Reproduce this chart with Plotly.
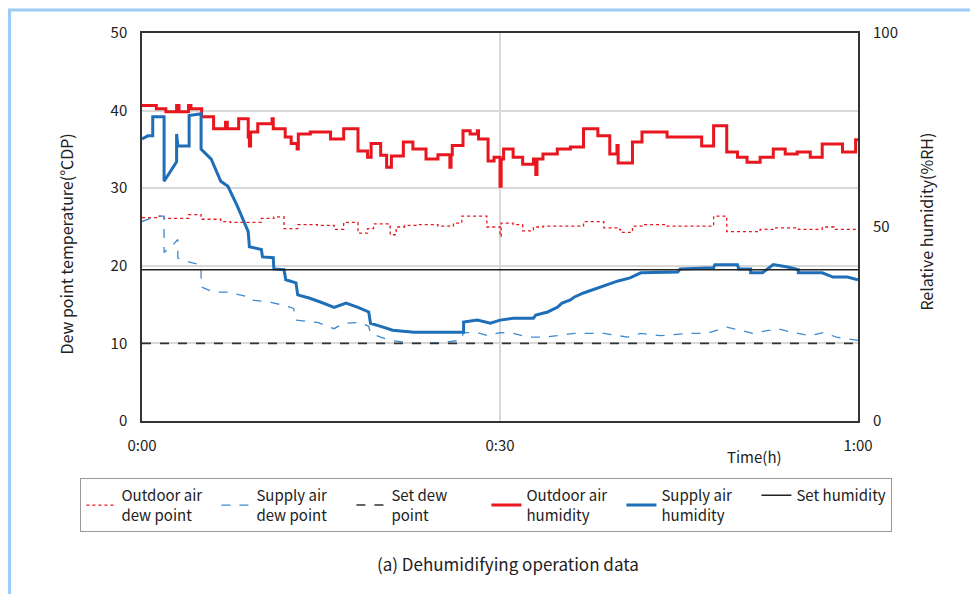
import plotly.graph_objects as go

# time in minutes
OUT_HUM_T = [0, 1.2, 2.0, 2.9, 3.1, 3.9, 4.1, 5.0, 6.0, 7.0, 7.15, 8.1, 8.9, 9.0, 9.1, 9.7, 10.9, 11.0,
             12.0, 12.5, 13.0, 13.1, 14.1, 15.8, 16.9, 18.1, 18.9, 19.2, 20.0, 20.5, 20.9, 21.9, 22.7,
             23.8, 24.8, 25.8, 25.9, 26.0, 26.9, 27.5, 28.1, 28.2, 29.0, 29.5, 30.0, 30.1, 30.3, 31.1,
             31.9, 32.8, 33.0, 33.1, 33.6, 34.8, 35.9, 37.0, 38.2, 39.2, 39.8, 39.9, 41.1, 41.9, 44.0,
             46.9, 47.9, 49.0, 49.9, 50.7, 51.8, 52.9, 53.9, 54.9, 56.0, 57.0, 58.7, 59.8, 60]
OUT_HUM = [81.3, 80.5, 79.7, 81.3, 79.7, 81.3, 80.5, 78.4, 75.3, 77.0, 75.3, 77.9, 73.2, 70.9, 74.5, 76.6,
           77.9, 75.3, 73.2, 71.5, 70.1, 74.0, 74.5, 72.7, 75.3, 69.6, 68.0, 71.5, 68.5, 65.4, 68.3, 71.9,
           70.1, 67.5, 68.6, 65.4, 68.6, 71.0, 74.8, 74.0, 74.8, 72.7, 67.0, 68.0, 60.5, 67.5, 70.1, 68.0,
           66.2, 67.5, 63.5, 67.5, 68.8, 70.1, 70.6, 75.3, 73.5, 68.8, 71.0, 66.5, 71.9, 74.5, 73.2, 70.9,
           76.1, 69.3, 68.0, 66.7, 68.0, 70.1, 68.8, 69.3, 68.0, 71.4, 69.3, 72.5, 72.5]

OUT_DEW_T = [0, 1.2, 1.85, 3.9, 4.95, 6.6, 7.4, 10.0, 11.05, 11.9, 13.05, 14.7, 16.1, 16.9, 18.1, 18.9,
             19.4, 20.8, 21.3, 22.0, 23.1, 24.8, 26.1, 26.8, 28.9, 30.0, 30.1, 31.1, 31.9, 32.8, 33.6,
             37.0, 38.7, 39.9, 40.1, 41.1, 42.0, 44.0, 47.9, 49.0, 51.8, 53.0, 55.0, 57.0, 58.0, 60]
OUT_DEW = [26.2, 26.4, 26.1, 26.6, 26.0, 25.7, 25.6, 26.1, 26.3, 24.8, 25.3, 25.2, 24.7, 25.6, 24.2, 24.8,
           25.4, 24.0, 25.0, 25.2, 25.3, 25.1, 25.5, 26.4, 25.0, 23.8, 25.5, 25.3, 24.5, 25.0, 25.1,
           25.7, 24.9, 24.7, 24.3, 25.1, 25.3, 25.1, 26.4, 24.4, 24.7, 24.9, 24.7, 25.0, 24.7, 24.7]

SUP_HUM_T = [0, 0.5, 0.9, 0.9, 1.85, 1.85, 2.9, 2.9, 3.0, 3.95, 3.95, 4.95, 4.95, 5.8, 6.6, 7.2, 8.0,
             8.9, 9.0, 10.0, 10.1, 11.0, 11.05, 11.9, 12.05, 12.9, 13.05, 14.0, 15.0, 16.1, 17.1, 18.1,
             19.0, 19.15, 20.0, 21.0, 22.8, 26.95, 26.95, 28.1, 29.2, 30.0, 31.1, 32.8, 33.0, 34.0, 34.8,
             35.2, 35.9, 36.2, 37.0, 38.2, 39.0, 39.9, 40.9, 41.8, 44.9, 45.1, 47.9, 48.0, 49.9, 50.0,
             51.0, 51.0, 52.0, 52.9, 54.1, 55.0, 55.0, 57.0, 57.9, 59.1, 60]
SUP_HUM = [72.7, 73.5, 73.5, 78.4, 78.4, 61.8, 66.8, 74.0, 70.9, 70.9, 78.7, 79.2, 70.1, 67.5, 61.8, 60.5,
           55.3, 48.8, 44.9, 44.2, 42.3, 42.1, 39.2, 39.0, 36.4, 35.6, 32.5, 31.7, 30.6, 29.3, 30.4, 29.3,
           28.1, 25.2, 24.4, 23.4, 22.9, 22.9, 25.5, 26.0, 25.2, 26.0, 26.5, 26.5, 27.3, 28.1, 29.3,
           30.4, 31.2, 31.9, 33.0, 34.3, 35.1, 36.1, 36.9, 38.2, 38.4, 39.2, 39.5, 40.3, 40.3, 39.2,
           39.2, 38.2, 38.2, 40.3, 39.7, 39.0, 38.2, 38.2, 37.1, 37.1, 36.4]

SUP_DEW_T = [0, 1.2, 1.85, 1.85, 2.6, 3.0, 3.0, 3.9, 4.95, 4.95, 6.0, 7.2, 8.9, 9.1, 10.8, 11.9, 12.7,
             12.9, 14.7, 16.1, 16.9, 18.3, 19.0, 19.15, 20.0, 20.8, 22.8, 25.0, 26.7, 26.95, 28.1, 29.0,
             30.0, 31.1, 32.3, 33.6, 34.8, 36.2, 38.7, 39.9, 40.7, 41.8, 43.4, 45.9, 47.4, 48.2, 49.0,
             50.1, 51.2, 52.6, 53.2, 54.6, 56.0, 57.1, 58.2, 60]
SUP_DEW = [25.7, 26.4, 26.4, 21.7, 22.7, 23.4, 21.0, 20.5, 20.1, 17.3, 16.6, 16.6, 16.0, 15.6, 15.3, 14.9,
           14.5, 13.0, 12.7, 11.9, 12.6, 12.7, 12.2, 11.3, 10.8, 10.4, 10.0, 10.1, 10.4, 11.4, 11.4, 11.0,
           11.4, 11.3, 10.8, 10.8, 11.0, 11.3, 11.3, 11.0, 10.8, 11.3, 11.0, 11.3, 11.3, 11.7, 12.1,
           11.7, 11.3, 11.7, 11.9, 11.4, 11.0, 11.4, 10.8, 10.4]

SET_T = [0, 60]
SET_DEW = [10, 10]
SET_HUM = [39, 39]

LEGEND_NAMES = ['Outdoor air<br>dew point', 'Supply air<br>dew point', 'Set dew<br>point',
                'Outdoor air<br>humidity', 'Supply air<br>humidity', 'Set humidity']

RED = '#E8161E'
BLUE = '#1F6EB8'
FONT = 'Noto Sans CJK JP'

fig = go.Figure()

fig.add_trace(go.Scatter(x=OUT_DEW_T, y=OUT_DEW, name=LEGEND_NAMES[0], mode='lines', line_shape='hv',
                         line=dict(color=RED, width=1.3, dash='dot')))
fig.add_trace(go.Scatter(x=SUP_DEW_T, y=SUP_DEW, name=LEGEND_NAMES[1], mode='lines',
                         line=dict(color='#3F8AD0', width=1.3, dash='dash')))
fig.add_trace(go.Scatter(x=SET_T, y=SET_DEW, name=LEGEND_NAMES[2], mode='lines',
                         line=dict(color='#333333', width=1.6, dash='dash')))
fig.add_trace(go.Scatter(x=OUT_HUM_T, y=OUT_HUM, name=LEGEND_NAMES[3], mode='lines', line_shape='hv',
                         yaxis='y2', line=dict(color=RED, width=3)))
fig.add_trace(go.Scatter(x=SUP_HUM_T, y=SUP_HUM, name=LEGEND_NAMES[4], mode='lines',
                         yaxis='y2', line=dict(color=BLUE, width=3)))
fig.add_trace(go.Scatter(x=SET_T, y=SET_HUM, name=LEGEND_NAMES[5], mode='lines',
                         yaxis='y2', line=dict(color='#222222', width=1.6)))

# the page adds an 8px body margin, so the plot is laid out 8px up and left
fig.update_layout(
    width=978, height=594,
    margin=dict(l=134, r=128, t=25, b=181, autoexpand=False),
    paper_bgcolor='white', plot_bgcolor='white',
    font=dict(family=FONT, size=15, color='#222222'),
    xaxis=dict(range=[0, 60], tickvals=[0, 30, 60], ticktext=['0:00', '0:30', '1:00'],
               showgrid=True, gridcolor='#D9D9D9', gridwidth=1.5, zeroline=False,
               showline=True, linecolor='#333333', linewidth=1.5, mirror=True,
               ticks='', ticklabelstandoff=10),
    yaxis=dict(range=[0, 50], dtick=10, showgrid=True, gridcolor='#D9D9D9', gridwidth=1.5,
               zeroline=False, showline=True, linecolor='#333333', linewidth=1.5, mirror=True,
               ticks='', ticklabelstandoff=10),
    yaxis2=dict(range=[0, 100], dtick=50, overlaying='y', side='right', showgrid=False,
                zeroline=False, showline=False, ticks='', ticklabelstandoff=14),
    legend=dict(orientation='h', x=-0.086, y=-0.147, xanchor='left', yanchor='top',
                bordercolor='#999999', borderwidth=1, font=dict(size=15),
                entrywidth=90, itemwidth=30, tracegroupgap=0),
    showlegend=True,
)

label_style = dict(xref='paper', yref='paper', showarrow=False, xanchor='center', yanchor='middle')
fig.add_annotation(text='Dew point temperature(℃DP)', x=-0.1056, y=0.456, textangle=-90,
                   font=dict(size=16), **label_style)
fig.add_annotation(text='Relative humidity(%RH)', x=1.0945, y=0.513, textangle=-90,
                   font=dict(size=16), **label_style)
fig.add_annotation(text='Time(h)', x=0.856, y=-0.0925, font=dict(size=15), **label_style)
fig.add_annotation(text='(a) Dehumidifying operation data', x=0.511, y=-0.366,
                   font=dict(size=17), **label_style)

# light blue page frame
fig.add_shape(type='line', xref='paper', yref='paper', x0=-0.2, x1=1.2, y0=1.0595, y1=1.0595,
              line=dict(color='#9CCBF6', width=3))
fig.add_shape(type='line', xref='paper', yref='paper', x0=-0.185, x1=-0.185, y0=1.0595, y1=-0.5,
              line=dict(color='#9CCBF6', width=3))

fig.write_html("out.html")
